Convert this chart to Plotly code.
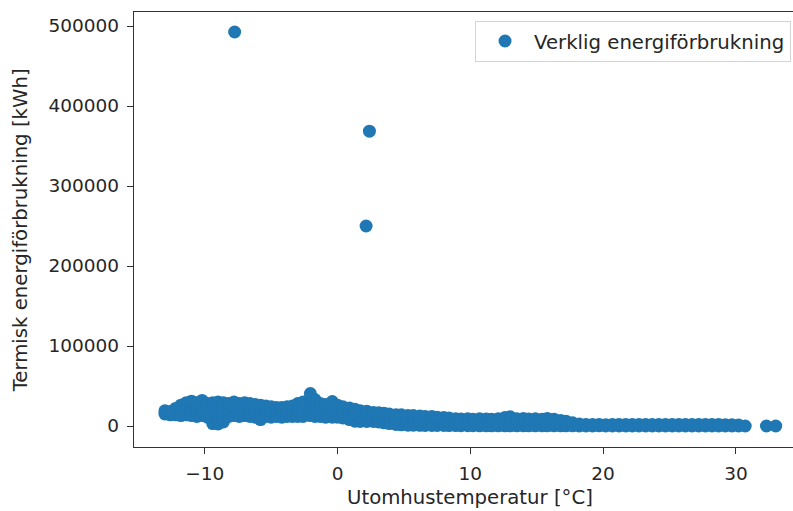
import plotly.graph_objects as go

# Outdoor temperature [°C] and measured thermal energy use [kWh]
# Cold period, -13 to -3 °C
temp_kall = [
    -13.0, -13.0, -12.6, -12.6, -12.2, -12.2,
    -11.8, -11.8, -11.8, -11.4, -11.4, -11.4, -11.0, -11.0, -11.0,
    -10.6, -10.6, -10.6, -10.2, -10.2, -10.2, -9.8, -9.8, -9.8,
    -9.4, -9.4, -9.4, -9.4, -9.0, -9.0, -9.0, -9.0, -8.6, -8.6, -8.6, -8.6,
    -8.2, -8.2, -8.2, -7.8, -7.8, -7.8, -7.4, -7.4, -7.4, -7.0, -7.0, -7.0,
    -6.6, -6.6, -6.6, -6.2, -6.2, -6.2, -5.8, -5.8, -5.8, -5.4, -5.4, -5.4,
    -5.0, -5.0, -5.0, -4.6, -4.6, -4.6, -4.2, -4.2, -4.2, -3.8, -3.8, -3.8,
    -3.4, -3.4, -3.4, -3.0, -3.0, -3.0,
]
energi_kall = [
    15000, 19000, 14000, 18000, 14000, 22000,
    13000, 20000, 26000, 14000, 21000, 29000, 13000, 22000, 31000,
    12000, 20000, 29000, 13000, 22000, 32000, 11000, 21000, 28000,
    3000, 12000, 22000, 29000, 2500, 13000, 21000, 30000, 5000, 14000, 23000, 29000,
    12000, 20000, 28000, 13000, 22000, 30000, 12000, 21000, 28000, 13000, 20000, 29000,
    12000, 21000, 28000, 11000, 19000, 27000, 8000, 18000, 26000, 12000, 19000, 25000,
    11000, 18000, 24000, 12000, 18000, 23000, 11000, 17000, 23000, 12000, 18000, 24000,
    12000, 19000, 25000, 12000, 20000, 28000,
]

# Transition, -2.6 to 9.3 °C
temp_mild = [
    -2.6, -2.6, -2.6, -2.05, -2.05, -2.05, -2.05, -1.7, -1.7, -1.7,
    -1.3, -1.3, -1.3, -0.9, -0.9, -0.9, -0.4, -0.4, -0.4, 0.0, 0.0, 0.0,
    0.4, 0.4, 0.4, 0.9, 0.9, 0.9, 1.3, 1.3, 1.3, 1.7, 1.7, 1.7,
    2.2, 2.2, 2.2, 2.7, 2.7, 2.7, 3.1, 3.1, 3.1, 3.5, 3.5, 3.5,
    3.9, 3.9, 3.9, 4.4, 4.4, 4.4, 4.8, 4.8, 4.8, 5.3, 5.3, 5.3,
    5.7, 5.7, 5.7, 6.2, 6.2, 6.2, 6.6, 6.6, 6.6, 7.1, 7.1, 7.1,
    7.5, 7.5, 7.5, 8.0, 8.0, 8.0, 8.4, 8.4, 8.4, 8.9, 8.9, 8.9,
    9.3, 9.3, 9.3,
]
energi_mild = [
    12000, 21000, 30000, 13000, 22000, 31000, 40600, 12000, 21000, 33000,
    12000, 20000, 28000, 11000, 20000, 27000, 11000, 20000, 30600, 11000, 19000, 26000,
    10000, 18000, 24000, 8000, 15000, 22500, 6000, 13000, 21000, 5600, 12000, 19000,
    5600, 11000, 18500, 5600, 11000, 17000, 5000, 10000, 16500, 4000, 9000, 16000,
    3000, 8000, 15000, 2000, 8000, 14000, 1500, 7000, 14000, 1000, 6000, 13000,
    1000, 6000, 13000, 800, 6000, 12500, 600, 6000, 12000, 600, 6000, 12000,
    600, 5000, 11000, 600, 5000, 10500, 500, 4500, 10000, 500, 4000, 9000,
    400, 4000, 8700,
]

# Warm period, 9.8 to 17.7 °C
temp_varm = [
    9.8, 9.8, 10.2, 10.2, 10.7, 10.7, 11.2, 11.2, 11.6, 11.6, 12.1, 12.1,
    12.6, 12.6, 13.0, 13.0, 13.5, 13.5, 14.0, 14.0, 14.4, 14.4, 14.9, 14.9,
    15.4, 15.4, 15.8, 15.8, 16.3, 16.3, 16.8, 16.8, 17.2, 17.2, 17.7, 17.7,
]
energi_varm = [
    300, 9000, 300, 8500, 200, 9000, 200, 8800, 200, 8500, 200, 9000,
    200, 10500, 200, 11500, 200, 9000, 200, 9500, 200, 8800, 200, 9000,
    200, 8500, 200, 9500, 200, 8500, 200, 7000, 200, 6000, 200, 4000,
]

# Summer, 18.2 to 33 °C
temp_sommar = [
    18.2, 18.2, 18.7, 18.7, 19.2, 19.2, 19.7, 19.7, 20.2, 20.2, 20.7, 20.7,
    21.2, 21.2, 21.7, 21.7, 22.2, 22.2, 22.7, 22.7, 23.2, 23.2, 23.7, 23.7,
    24.2, 24.2, 24.7, 24.7, 25.2, 25.2, 25.7, 25.7, 26.2, 26.2, 26.7, 26.7,
    27.2, 27.2, 27.7, 27.7, 28.2, 28.2, 28.7, 28.7, 29.2, 29.2, 29.7, 29.7,
    30.2, 30.2, 30.7, 32.3, 33.0,
]
energi_sommar = [
    0, 2500, 100, 2000, 0, 1800, 200, 2000, 0, 1700, 100, 1900,
    0, 2000, 0, 1800, 100, 1900, 0, 1800, 0, 2000, 100, 1800,
    0, 1900, 0, 1800, 100, 2000, 0, 1800, 0, 1900, 100, 1800,
    0, 2000, 0, 1800, 100, 1900, 0, 1800, 0, 1700, 100, 1500,
    0, 1200, 0, 0, 0,
]

# Isolated high readings
temp_avvik = [-7.75, 2.4, 2.15]
energi_avvik = [492500, 368500, 250000]

temperatur = temp_kall + temp_mild + temp_varm + temp_sommar + temp_avvik
energi = energi_kall + energi_mild + energi_varm + energi_sommar + energi_avvik

x_ticks = [-10, 0, 10, 20, 30]
y_ticks = [0, 100000, 200000, 300000, 400000, 500000]

FONT = "DejaVu Sans"
TXT = "#262626"
BLUE = "#1f77b4"
TICK_SIZE = 18.5
LABEL_SIZE = 19.7

fig = go.Figure()
fig.add_trace(go.Scatter(
    x=temperatur, y=energi, mode="markers",
    name="Verklig energiförbrukning",
    marker=dict(size=13, color=BLUE, line=dict(width=0)),
))

fig.update_layout(
    width=793, height=511,
    margin=dict(l=134, r=0, t=12, b=64),
    paper_bgcolor="white", plot_bgcolor="white",
    font=dict(family=FONT, size=TICK_SIZE, color=TXT),
    showlegend=True,
    legend=dict(
        x=0.997, y=0.98, xanchor="right", yanchor="top",
        bordercolor="#d4d4d4", borderwidth=1,
        bgcolor="rgba(255,255,255,0.8)",
        itemwidth=48,
        font=dict(family=FONT, size=LABEL_SIZE, color=TXT),
    ),
    xaxis=dict(
        range=[-15.33, 34.3], tickvals=x_ticks,
        ticktext=[("−" + str(-v)) if v < 0 else str(v) for v in x_ticks],
        showgrid=False, zeroline=False,
        showline=True, linecolor="#333333", linewidth=1.3, mirror=True,
        ticks="outside", ticklen=6, tickwidth=1.2, tickcolor="#333333",
        ticklabelstandoff=4,
        tickfont=dict(family=FONT, size=TICK_SIZE, color=TXT),
    ),
    yaxis=dict(
        range=[-26250, 517500], tickvals=y_ticks,
        ticktext=[str(v) for v in y_ticks],
        showgrid=False, zeroline=False,
        showline=True, linecolor="#333333", linewidth=1.3, mirror=False,
        ticks="outside", ticklen=6, tickwidth=1.2, tickcolor="#333333",
        ticklabelstandoff=4,
        tickfont=dict(family=FONT, size=TICK_SIZE, color=TXT),
    ),
    annotations=[
        dict(text="Utomhustemperatur [°C]", xref="paper", yref="paper",
             x=0.51, y=-0.115, xanchor="center", yanchor="middle",
             showarrow=False, font=dict(family=FONT, size=LABEL_SIZE, color=TXT)),
        dict(text="Termisk energiförbrukning [kWh]", xref="paper", yref="paper",
             x=-0.173, y=0.498, xanchor="center", yanchor="middle", textangle=-90,
             showarrow=False, font=dict(family=FONT, size=LABEL_SIZE, color=TXT)),
    ],
)

fig.write_html("out.html")
